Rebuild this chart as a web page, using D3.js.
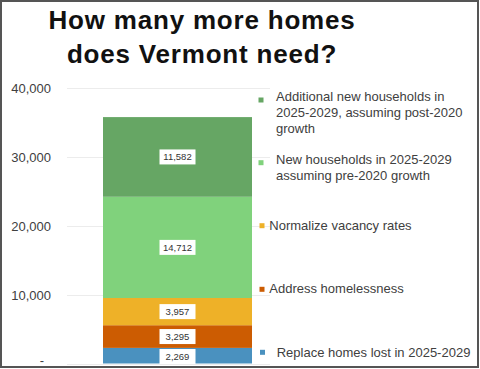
<!DOCTYPE html>
<html><head><meta charset="utf-8">
<script src="https://cdn.jsdelivr.net/npm/d3@7"></script>
<style>html,body{margin:0;padding:0;background:#fff;}svg{display:block;}</style>
</head><body>
<script>
const titleLines = ["How many more homes", "does Vermont need?"];
const series = ["Replace homes lost in 2025-2029", "Address homelessness", "Normalize vacancy rates",
  "New households in 2025-2029 assuming pre-2020 growth",
  "Additional new households in 2025-2029, assuming post-2020 growth"];
const legendLines = [["Replace homes lost in 2025-2029"], ["Address homelessness"], ["Normalize vacancy rates"],
  ["New households in 2025-2029", "assuming pre-2020 growth"],
  ["Additional new households in", "2025-2029, assuming post-2020", "growth"]];
const values = [2269, 3295, 3957, 14712, 11582];
const colors = ["#4a91bf", "#cc5c02", "#eeb128", "#80d27c", "#66a664"];
const tickValues = [0, 10000, 20000, 30000, 40000];
const tickLabels = ["-", "10,000", "20,000", "30,000", "40,000"];

const W = 480, H = 369;
const svg = d3.select("body").append("svg").attr("width", W).attr("height", H);
const font = "'Liberation Sans', Arial, sans-serif";

const y = d3.scaleLinear().domain([0, 40000]).range([363.5, 88.3]);
const barX0 = 103, barX1 = 252;

// gridlines
svg.append("g").selectAll("line").data(tickValues).join("line")
  .attr("x1", 67).attr("x2", 270)
  .attr("y1", d => Math.round(y(d)) + 0.5).attr("y2", d => Math.round(y(d)) + 0.5)
  .attr("stroke", "#ececec").attr("stroke-width", 1);

// y axis
const axis = d3.axisLeft(y).tickValues(tickValues).tickFormat((d, i) => tickLabels[i]).tickSize(0).tickPadding(0);
const ag = svg.append("g").attr("transform", "translate(51,0)").call(axis);
ag.select(".domain").remove();
ag.selectAll("text").attr("font-family", font).attr("font-size", 13).attr("fill", "#404040")
  .attr("dy", "0.35em");
ag.selectAll(".tick").filter(d => d === 0).select("text").attr("x", -7).attr("dy", "0.1em");

// stacked bars
let cum = 0;
const stack = values.map((v, i) => { const s = {y0: cum, y1: cum + v, v, i}; cum += v; return s; });
svg.append("g").selectAll("rect").data(stack).join("rect")
  .attr("x", barX0).attr("width", barX1 - barX0)
  .attr("y", d => y(d.y1)).attr("height", d => y(d.y0) - y(d.y1))
  .attr("fill", d => colors[d.i]);

// data labels
const fmt = d3.format(",");
const lab = svg.append("g").selectAll("g").data(stack).join("g")
  .attr("transform", d => {
    let cy = (y(d.y0) + y(d.y1)) / 2;
    if (d.i === 0) cy = 356.5;
    return `translate(${(barX0 + barX1) / 2},${cy})`;
  });
lab.append("rect").attr("x", -18).attr("y", -7.5).attr("width", 36).attr("height", 15).attr("fill", "#fff");
lab.append("text").attr("text-anchor", "middle").attr("dy", "0.35em")
  .attr("font-family", font).attr("font-size", 9.5).attr("fill", "#333").text(d => fmt(d.v));

// legend
const legendPos = [
  {my: 352.3, tx: 276.7, mx: 260, base: 356.7},
  {my: 289.3, tx: 269.3, mx: 259.5, base: 293.3},
  {my: 225.7, tx: 269.3, mx: 259.5, base: 230},
  {my: 162.7, tx: 276, mx: 258.5, base: 164.3},
  {my: 100, tx: 276, mx: 258.5, base: 100.7}
];
const lg = svg.append("g").selectAll("g").data(series).join("g");
lg.append("rect").attr("x", (d, i) => legendPos[i].mx).attr("y", (d, i) => legendPos[i].my - 2.5)
  .attr("width", 5).attr("height", 5).attr("fill", (d, i) => colors[i]);
lg.append("text").attr("font-family", font).attr("font-size", 13).attr("fill", "#404040")
  .attr("x", (d, i) => legendPos[i].tx).attr("y", (d, i) => legendPos[i].base)
  .selectAll("tspan").data((d, i) => legendLines[i].map(t => ({t, x: legendPos[i].tx}))).join("tspan")
  .attr("x", d => d.x).attr("dy", (d, j) => j === 0 ? 0 : 16).text(d => d.t);

// title
svg.append("g").selectAll("text").data(titleLines).join("text")
  .attr("x", 202).attr("y", (d, i) => 28.5 + i * 34).attr("text-anchor", "middle")
  .attr("font-family", font).attr("font-weight", "bold").attr("font-size", 26)
  .attr("letter-spacing", 0.8).attr("fill", "#111")
  .text(d => d);

// border
svg.append("rect").attr("x", 1).attr("y", 1).attr("width", 477).attr("height", 366)
  .attr("fill", "none").attr("stroke", "#555").attr("stroke-width", 2);
</script>
</body></html>
